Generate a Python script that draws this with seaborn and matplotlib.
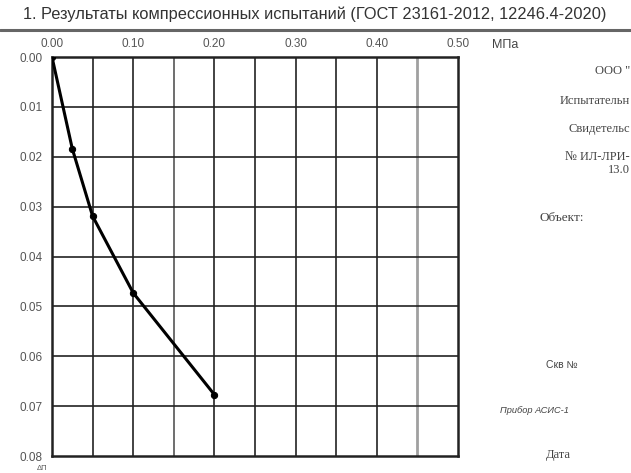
import matplotlib
matplotlib.use("Agg")
import matplotlib.pyplot as plt
import seaborn as sns
import pandas as pd
from matplotlib.lines import Line2D

# data
pressure = [0.0, 0.025, 0.05, 0.10, 0.20]          # МПа
settlement = [0.0, 0.0184, 0.0319, 0.0473, 0.0677]  # Δh
x_ticks = [0.0, 0.10, 0.20, 0.30, 0.40, 0.50]
y_ticks = [0.0, 0.01, 0.02, 0.03, 0.04, 0.05, 0.06, 0.07, 0.08]

sns.set_style("white")
plt.rcParams['font.family'] = ['Liberation Sans', 'DejaVu Sans']

df = pd.DataFrame({"p": pressure, "s": settlement})

fig = plt.figure(figsize=(6.31, 4.73), dpi=100)
ax = fig.add_axes([52/631, 1 - 456/473, 406/631, 399/473])

# grid
for gx in [0.05 * i for i in range(1, 10)]:
    if abs(gx - 0.45) < 1e-6:
        ax.axvline(gx, color="#a0a0a0", lw=2.0, zorder=1)
    elif abs(gx - 0.15) < 1e-6:
        ax.axvline(gx, color="#555555", lw=1.2, zorder=1)
    else:
        ax.axvline(gx, color="#222222", lw=1.2, zorder=1)
for gy in y_ticks[1:-1]:
    ax.axhline(gy, color="#222222", lw=1.2, zorder=1)

sns.lineplot(data=df, x="p", y="s", ax=ax, color="black", lw=2.2,
             marker="o", markersize=4.5, markeredgecolor="black", zorder=3)

ax.set_xlim(0, 0.5)
ax.set_ylim(0.08, 0.0)
ax.xaxis.tick_top()
ax.set_xticks(x_ticks)
ax.set_yticks(y_ticks)
ax.set_xticklabels([f"{v:.2f}" for v in x_ticks])
ax.set_yticklabels([f"{v:.2f}" for v in y_ticks])
ax.tick_params(axis="both", labelsize=8.5, colors="#555555", length=0)
ax.tick_params(axis="x", pad=5)
ax.tick_params(axis="y", pad=7)
ax.set_xlabel("")
ax.set_ylabel("")
for sp in ax.spines.values():
    sp.set_color("#222222")
    sp.set_linewidth(1.8)

# header
fig.text(315/631, 1 - 14/473,
         "1. Результаты компрессионных испытаний (ГОСТ 23161-2012, 12246.4-2020)",
         ha="center", va="center", fontsize=11.8, color="#333333")
fig.add_artist(Line2D([0, 1], [1 - 30/473, 1 - 30/473], transform=fig.transFigure,
                      color="#666666", lw=2.2))
fig.text(492/631, 1 - 45/473, "МПа", ha="left", va="center", fontsize=9, color="#444444")
fig.text(42/631, 1 - 468/473, "ΔП", ha="center", va="center", fontsize=5.5, color="#555555")

# right side block (cut off at the right edge in the original)
serif = ['Liberation Serif', 'DejaVu Serif']
fig.text(630/631, 1 - 71/473, "ООО \"", ha="right", fontsize=9, family=serif, color="#444444", va="center")
fig.text(630/631, 1 - 101/473, "Испытательн", ha="right", fontsize=9, family=serif, color="#444444", va="center")
fig.text(630/631, 1 - 129/473, "Свидетельс", ha="right", fontsize=9, family=serif, color="#444444", va="center")
fig.text(630/631, 1 - 157/473, "№ ИЛ-ЛРИ-", ha="right", fontsize=9, family=serif, color="#444444", va="center")
fig.text(630/631, 1 - 170/473, "13.0", ha="right", fontsize=9, family=serif, color="#444444", va="center")
fig.text(540/631, 1 - 218/473, "Объект:", fontsize=9.5, family=serif, color="#444444", va="center")
fig.text(546/631, 1 - 365/473, "Скв №", fontsize=7.5, color="#444444", va="center")
fig.text(500/631, 1 - 410/473, "Прибор АСИС-1", fontsize=6.7, style="italic", color="#444444", va="center")
fig.text(546/631, 1 - 455/473, "Дата", fontsize=9, family=serif, color="#444444", va="center")

fig.savefig("out.png", dpi=100)
